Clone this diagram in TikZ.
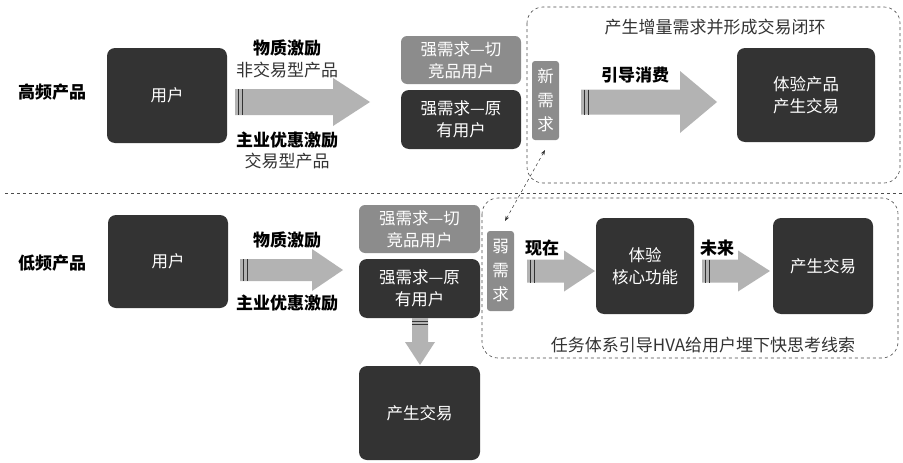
\documentclass[tikz,border=0pt]{standalone}
\usepackage{fontspec}
\setmainfont{Noto Sans CJK SC}
\usetikzlibrary{arrows.meta}
\definecolor{boxdark}{HTML}{333333}
\definecolor{boxgray}{HTML}{8C8C8C}
\definecolor{arrgray}{HTML}{B3B3B3}
\newcommand\fatarr[6]{% x0, xbase, xtip, yc, half shaft, half head
  \fill[arrgray] (#1,#4-#5) -- (#2,#4-#5) -- (#2,#4-#6) -- (#3,#4) -- (#2,#4+#6) -- (#2,#4+#5) -- (#1,#4+#5) -- cycle;
  \draw[gray!40!black,line width=0.8pt] (#1+3,#4-#5) -- (#1+3,#4+#5) (#1+7,#4-#5) -- (#1+7,#4+#5);}
\begin{document}
\begin{tikzpicture}[x=1pt,y=-1pt,
  darkbox/.style={draw=none,fill=boxdark,rounded corners=8pt},
  graybox/.style={darkbox,fill=boxgray,rounded corners=6pt},
  boxtxt/.style={text=white,align=center,inner sep=0pt,font=\fontsize{16.5}{22}\selectfont},
  lbl/.style={font=\fontsize{17}{20}\selectfont\bfseries,inner sep=1pt},
  thin/.style={font=\fontsize{17}{20}\selectfont,text=black!80,inner sep=1pt},
  region/.style={draw=black!70,dashed,rounded corners=16pt,line width=0.6pt}]
\useasboundingbox (0,0) rectangle (903,463);
\fill[white] (0,0) rectangle (903,463);
% regions
\draw[region] (527,7) rectangle (900,183);
\draw[region] (482,198) rectangle (898,358);
\draw[dashed,black!70,line width=0.6pt] (5,193) -- (903,193);
% top row
\node[lbl] (hf) at (52,92) {高频产品};
\path[darkbox] (107,48) rectangle (227,143);
\node[boxtxt] (u1) at (167,95) {用户};
\fatarr{235}{333}{370}{102}{13}{24}
\node[lbl] (m1) at (287,48) {物质激励};
\node[thin] (n1) at (287,70) {非交易型产品};
\node[lbl] (z1) at (287,140) {主业优惠激励};
\node[thin] (j1) at (287,161) {交易型产品};
\path[graybox] (401,36) rectangle (521,84);
\node[boxtxt] (q1) at (461,60) {强需求—切\\竞品用户};
\path[darkbox] (401,90) rectangle (521,149);
\node[boxtxt] (y1) at (461,119.5) {强需求—原\\有用户};
\path[graybox,rounded corners=3pt] (532,61) rectangle (559,140);
\node[boxtxt,font=\fontsize{16.5}{24}\selectfont] (xq) at (545.5,100.5) {新\\需\\求};
\node[thin] (t1) at (715,27) {产生增量需求并形成交易闭环};
\node[lbl] (yd) at (635,75) {引导消费};
\fatarr{581}{680}{717}{102}{12.5}{31}
\path[darkbox] (737,48) rectangle (875,142);
\node[boxtxt] (ty) at (806,95) {体验产品\\产生交易};
% bottom row
\node[lbl] (lf) at (52,263) {低频产品};
\path[darkbox] (108,215) rectangle (228,308);
\node[boxtxt] (u2) at (168,261.5) {用户};
\fatarr{240}{312}{343}{270}{11}{21}
\node[lbl] (m2) at (287,240) {物质激励};
\node[lbl] (z2) at (287,303) {主业优惠激励};
\path[graybox] (359,205) rectangle (480,253);
\node[boxtxt] (q2) at (419.5,229) {强需求—切\\竞品用户};
\path[darkbox] (359,259) rectangle (480,318);
\node[boxtxt] (y2) at (419.5,288.5) {强需求—原\\有用户};
% down arrow
\fill[arrgray] (412,318) -- (428,318) -- (428,342) -- (435,342) -- (420,365) -- (405,342) -- (412,342) -- cycle;
\draw[gray!40!black,line width=0.8pt] (412,321) -- (428,321) (412,324.5) -- (428,324.5);
\path[darkbox] (359,366) rectangle (480,460);
\node[boxtxt] (cs) at (419.5,413) {产生交易};
\path[graybox,rounded corners=3pt] (487,231) rectangle (514,311);
\node[boxtxt,font=\fontsize{16.5}{24}\selectfont] (rq) at (500.5,271) {弱\\需\\求};
\fatarr{527}{564}{595}{271}{11.5}{20.5}
\node[lbl,fill=white] (xz) at (542,248) {现在};
\path[darkbox] (596,218) rectangle (694,314);
\node[boxtxt] (hx) at (645,266) {体验\\核心功能};
\fatarr{702}{738}{770}{271}{11.5}{20.5}
\node[lbl,fill=white] (wl) at (717,248) {未来};
\path[darkbox] (773,218) rectangle (873,314);
\node[boxtxt] (cs2) at (823,266) {产生交易};
\node[thin] (t2) at (703,345) {任务体系引导HVA给用户埋下快思考线索};
% dashed link
\coordinate (a1) at (505,221);
\coordinate (a2) at (545,150);
\draw[dashed,black!80,line width=0.5pt,{Stealth[length=5pt]}-{Stealth[length=5pt]}] (a1) -- (a2);
\end{tikzpicture}
\end{document}
